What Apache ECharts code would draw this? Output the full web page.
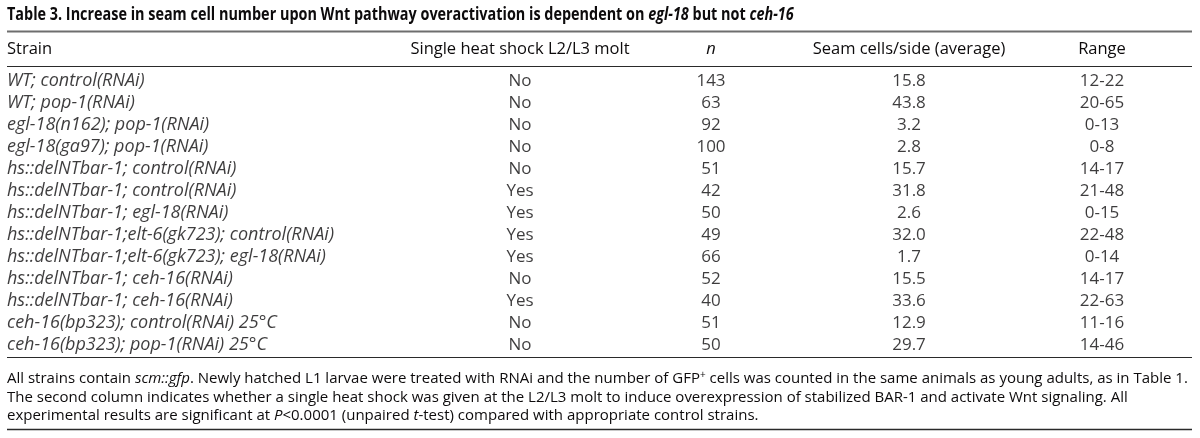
<!DOCTYPE html>
<html>
<head>
<meta charset="utf-8">
<style>
html,body{margin:0;padding:0;background:#fff;}
#c{width:1200px;height:438px;}
</style>
<script src="https://cdn.jsdelivr.net/npm/echarts@6/dist/echarts.min.js"></script>
</head>
<body>
<div id="c"></div>
<script>
// ---- data ----
var strains = [
  'WT; control(RNAi)',
  'WT; pop-1(RNAi)',
  'egl-18(n162); pop-1(RNAi)',
  'egl-18(ga97); pop-1(RNAi)',
  'hs::delNTbar-1; control(RNAi)',
  'hs::delNTbar-1; control(RNAi)',
  'hs::delNTbar-1; egl-18(RNAi)',
  'hs::delNTbar-1;elt-6(gk723); control(RNAi)',
  'hs::delNTbar-1;elt-6(gk723); egl-18(RNAi)',
  'hs::delNTbar-1; ceh-16(RNAi)',
  'hs::delNTbar-1; ceh-16(RNAi)',
  'ceh-16(bp323); control(RNAi) 25°C',
  'ceh-16(bp323); pop-1(RNAi) 25°C'
];
var heatShock = ['No','No','No','No','No','Yes','Yes','Yes','Yes','No','Yes','No','No'];
var nValues = [143, 63, 92, 100, 51, 42, 50, 49, 66, 52, 40, 51, 50];
var seamAvg = [15.8, 43.8, 3.2, 2.8, 15.7, 31.8, 2.6, 32.0, 1.7, 15.5, 33.6, 12.9, 29.7];
var ranges = ['12-22','20-65','0-13','0-8','14-17','21-48','0-15','22-48','0-14','14-17','22-63','11-16','14-46'];
var headers = ['Strain', 'Single heat shock L2/L3 molt', 'n', 'Seam cells/side (average)', 'Range'];

// ---- layout ----
var FONT = '"Open Sans", "Noto Sans", sans-serif';
var TXT = '#0d0b0c';
var colX = [7, 520, 711, 909, 1102];   // column anchor positions (px)
var rowTop = 70, rowH = 22;
var BODY = 17, BODY_I = 18, HEAD = 16.5, FOOT = 15;

var rowIdx = strains.map(function (s, i) { return String(i); });

function colSeries(ci, values, fmt, align, italic) {
  return {
    type: 'scatter',
    symbolSize: 0,
    silent: true,
    data: values.map(function (v, i) { return { value: [colX[ci], String(i)], txt: fmt(v) }; }),
    label: {
      show: true,
      position: 'inside',
      align: align,
      verticalAlign: 'middle',
      color: TXT,
      fontFamily: FONT,
      fontSize: italic ? BODY_I : BODY,
      fontStyle: italic ? 'italic' : 'normal',
      formatter: function (p) { return p.data.txt; }
    }
  };
}

var chart = echarts.init(document.getElementById('c'), null, { renderer: 'canvas' });

var headerText = headers.map(function (h, i) {
  return {
    type: 'text',
    x: colX[i], y: 49,
    style: {
      text: h, fill: TXT, font: (i === 2 ? 'italic ' : '') + HEAD + 'px ' + FONT,
      textAlign: i === 0 ? 'left' : 'center', textVerticalAlign: 'middle'
    }
  };
});

function hline(y, color, w) {
  return { type: 'line', shape: { x1: 7, y1: y, x2: 1192, y2: y }, style: { stroke: color, lineWidth: w } };
}

var richFoot = {
  r: { fontFamily: FONT, fontSize: FOOT, fill: TXT, color: TXT },
  i: { fontFamily: FONT, fontSize: FOOT, fontStyle: 'italic', fill: TXT, color: TXT },
  s: { fontFamily: FONT, fontSize: 10, fill: TXT, color: TXT, padding: [0, 0, 7, 0] }
};
function footLine(y, text) {
  return {
    type: 'text', x: 7, y: y,
    style: { text: text, rich: richFoot, fill: TXT, font: FOOT + 'px ' + FONT, textVerticalAlign: 'middle' }
  };
}

var option = {
  animation: false,
  grid: { left: 0, right: 0, top: rowTop, height: rowH * strains.length },
  xAxis: { type: 'value', min: 0, max: 1200, show: false },
  yAxis: { type: 'category', data: rowIdx, inverse: true, show: false },
  series: [
    colSeries(0, strains, function (v) { return v; }, 'left', true),
    colSeries(1, heatShock, function (v) { return v; }, 'center', false),
    colSeries(2, nValues, function (v) { return String(v); }, 'center', false),
    colSeries(3, seamAvg, function (v) { return v.toFixed(1); }, 'center', false),
    colSeries(4, ranges, function (v) { return v; }, 'center', false)
  ],
  graphic: [
    {
      type: 'text', x: 7, y: 15, scaleX: 0.8,
      style: {
        text: '{b|Table 3. Increase in seam cell number upon Wnt pathway overactivation is dependent on }{bi|egl-18}{b| but not }{bi|ceh-16}',
        textVerticalAlign: 'middle',
        rich: {
          b: { fontFamily: FONT, fontSize: 18, fontWeight: 'bold', fill: TXT, color: TXT },
          bi: { fontFamily: FONT, fontSize: 18, fontWeight: 'bold', fontStyle: 'italic', fill: TXT, color: TXT }
        }
      }
    },
    hline(31.5, '#6e6e6e', 1.8),
    hline(66.5, '#2a2a2a', 1.2),
    hline(357.5, '#2a2a2a', 1.2),
    hline(429.5, '#2a2a2a', 1.4),
    footLine(379, '{r|All strains contain }{i|scm::gfp}{r|. Newly hatched L1 larvae were treated with RNAi and the number of GFP}{s|+}{r| cells was counted in the same animals as young adults, as in Table 1.}'),
    footLine(397.5, '{r|The second column indicates whether a single heat shock was given at the L2/L3 molt to induce overexpression of stabilized BAR-1 and activate Wnt signaling. All}'),
    footLine(416, '{r|experimental results are significant at }{i|P}{r|<0.0001 (unpaired }{i|t}{r|-test) compared with appropriate control strains.}')
  ].concat(headerText)
};
chart.setOption(option);
</script>
</body>
</html>
